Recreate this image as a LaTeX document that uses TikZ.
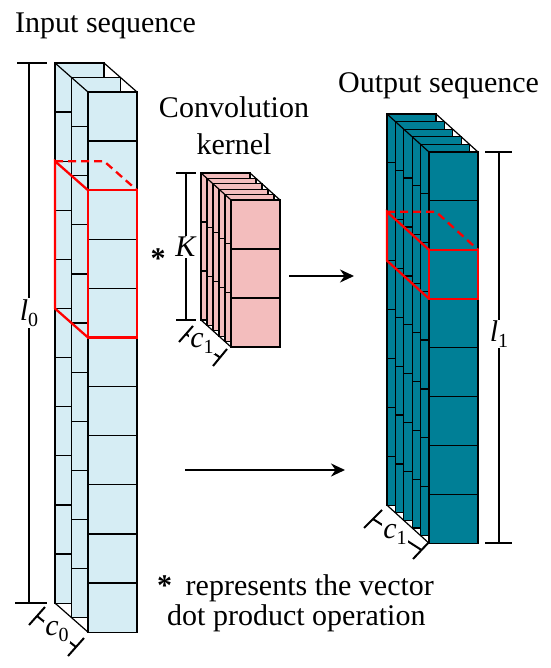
\documentclass[tikz,border=0pt]{standalone}
\usepackage{fontspec}
\setmainfont{Liberation Serif}
\usetikzlibrary{arrows.meta}
\definecolor{inblue}{RGB}{214,237,244}
\definecolor{kpink}{RGB}{243,189,189}
\definecolor{outteal}{RGB}{0,127,150}

\newcommand{\drawcolumn}[8]{%
  % #1 x0, #2 y0, #3 dx, #4 dy, #5 last layer index, #6 cells, #7 cell height, #8 fill
  \pgfmathtruncatemacro{\nminus}{#6-1}%
  \foreach \i in {0,...,#5}{%
    \pgfmathsetmacro{\xa}{#1+\i*#3}%
    \pgfmathsetmacro{\ya}{#2+\i*#4}%
    \filldraw[fill=#8, boxline] (\xa,\ya) rectangle ++(49,{#6*#7});
    \foreach \j in {1,...,\nminus}{%
      \draw[boxline] (\xa,{\ya+\j*#7}) -- ++(49,0);
    }
  }
  \pgfmathsetmacro{\xf}{#1+#5*#3}%
  \pgfmathsetmacro{\yf}{#2+#5*#4}%
  \draw[boxline] (#1,#2) -- (\xf,\yf);
  \draw[boxline] ({#1+49},#2) -- ({\xf+49},\yf);
  \draw[boxline] (#1,{#2+#6*#7}) -- (\xf,{\yf+#6*#7});
}
\newcommand{\dimsub}[2]{\textit{#1}\raisebox{-6pt}{\fontsize{20}{20}\selectfont #2}}

\begin{document}
\begin{tikzpicture}[x=1pt,y=-1pt,
  boxline/.style={draw=black, line width=1.2pt},
  dimline/.style={draw=black, line width=2pt},
  redline/.style={draw=red, line width=2.3pt, line join=miter},
  reddash/.style={draw=red, line width=2.3pt, dash pattern=on 8pt off 5pt},
  bigarrow/.style={draw=black, line width=2.8pt, -{Stealth[length=14pt,width=13pt]}},
  lbl/.style={font=\fontsize{30}{30}\selectfont, inner sep=0pt},
  dimlbl/.style={font=\fontsize{30}{30}\selectfont, fill=white, inner sep=1pt}]
\useasboundingbox (0,0) rectangle (550,668);

% ---------- dimension lines ----------
% l0
\draw[dimline] (29,63) -- (29,603);
\draw[dimline] (17,63) -- (47,63);
\draw[dimline] (15,603) -- (47,603);
\node[dimlbl] (l0) at (29,313) {\dimsub{l}{0}};
% c0
\coordinate (c0a) at (37,616);
\coordinate (c0b) at (76,647);
\draw[dimline] (c0a) -- (c0b);
\draw[dimline] (29,625) -- (45,607);
\draw[dimline] (68,656) -- (84,638);
\node[dimlbl] (c0) at (57,632) {\dimsub{c}{0}};
% K
\draw[dimline] (186,173) -- (186,320);
\draw[dimline] (176,173) -- (196,173);
\draw[dimline] (176,320) -- (196,320);
\node[dimlbl] (K) at (186,247) {\textit{K}};
% kernel c1
\coordinate (c1a) at (186,334);
\coordinate (c1b) at (220,357.5);
\draw[dimline] (c1a) -- (c1b);
\draw[dimline] (179,342) -- (193,326);
\draw[dimline] (213,366) -- (227,349);
\node[dimlbl] (c1k) at (202,343) {\dimsub{c}{1}};
% l1
\draw[dimline] (499,152) -- (499,543);
\draw[dimline] (485,152) -- (512,152);
\draw[dimline] (485,543) -- (512,543);
\node[dimlbl] (l1) at (499,334) {\dimsub{l}{1}};
% output c1
\coordinate (c1c) at (373,519);
\coordinate (c1d) at (421.5,550);
\draw[dimline] (c1c) -- (c1d);
\draw[dimline] (364,528) -- (382,510);
\draw[dimline] (413,559) -- (430,541);
\node[dimlbl] (c1o) at (395,534) {\dimsub{c}{1}};

% ---------- columns ----------
\drawcolumn{55}{63}{16.5}{14.5}{2}{11}{49.1}{inblue}
\drawcolumn{201}{173}{6}{5.4}{5}{3}{49}{kpink}
\drawcolumn{387}{114}{8.4}{7.6}{5}{8}{48.9}{outteal}

% ---------- red selection boxes ----------
% input
\draw[reddash] (55,161.2) -- (104,161.2) -- (137,190.2);
\draw[redline] (88,190.2) rectangle (137,337.5);
\draw[redline] (88,190.2) -- (55,161.2) -- (55,308.5) -- (88,337.5);
% output
\draw[reddash] (387,211.8) -- (436,211.8) -- (478,249.8);
\draw[redline] (429,249.8) rectangle (478,298.7);
\draw[redline] (429,249.8) -- (387,211.8) -- (387,260.7) -- (429,298.7);

% ---------- arrows ----------
\coordinate (arrA1) at (289,276);
\coordinate (arrA2) at (354,276);
\coordinate (arrB1) at (185,470);
\coordinate (arrB2) at (345,470);
\draw[bigarrow] (arrA1) -- (arrA2);
\draw[bigarrow] (arrB1) -- (arrB2);

% ---------- texts ----------
\node[lbl, anchor=base west] (tin) at (15,33) {Input sequence};
\node[lbl, anchor=base west] (tout) at (338,93) {Output sequence};
\node[lbl, anchor=base] (tconv) at (234,118) {Convolution};
\node[lbl, anchor=base] (tkern) at (234,155) {kernel};
\node[lbl, anchor=base] (star) at (158,268) {\textbf{*}};
\node[lbl, anchor=base west] (note1) at (157,595) {\textbf{*}\hspace{6pt} represents the vector};
\node[lbl, anchor=base west] (note2) at (167,625) {dot product operation};
\end{tikzpicture}
\end{document}
